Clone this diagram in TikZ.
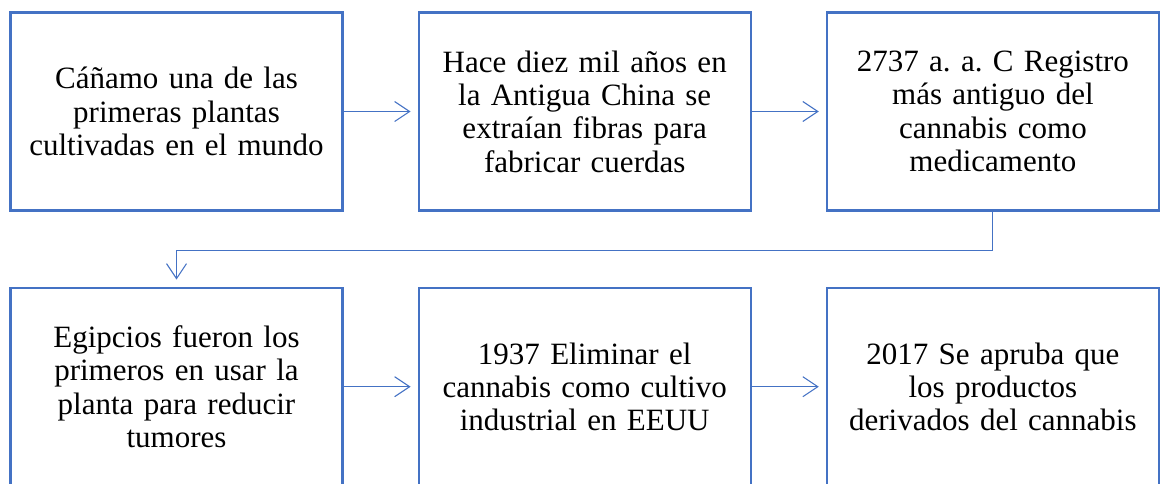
\documentclass[tikz,border=0pt]{standalone}
\usepackage{fontspec}
\setmainfont{Liberation Serif}
\usepackage{tikz}
\usetikzlibrary{positioning,arrows.meta}
\definecolor{AzulOffice}{HTML}{4472C4}
\frenchspacing

\tikzset{
  etapa/.style={draw=AzulOffice, line width=2.2pt, minimum width=332pt, minimum height=198pt, text width=310pt, align=center, inner sep=0pt, font=\fontsize{31}{33.3}\selectfont},
  flecha/.style={-{Straight Barb[length=15pt,width=20pt]}, AzulOffice, line width=1.1pt, shorten >=7pt}
}

\begin{document}
\begin{tikzpicture}
        \useasboundingbox (0,0) rectangle (1160pt,-483pt);
        % Fila superior
        \node[etapa] (canamo) at (176.5pt,-111.5pt) {C\'a\~namo una de las\\primeras plantas\\cultivadas en el mundo};
        \node[etapa, right=74pt of canamo] (china) {Hace diez mil a\~nos en\\la Antigua China se\\extra\'ian fibras para\\fabricar cuerdas};
        \node[etapa, right=74pt of china] (registro) {2737 a. a. C Registro\\m\'as antiguo del\\cannabis como\\medicamento};

        % Fila inferior
        \node[etapa, below=75pt of canamo] (egipcios) {Egipcios fueron los\\primeros en usar la\\planta para reducir\\tumores};
        \node[etapa, right=74pt of egipcios] (eeuu) {1937 Eliminar el\\cannabis como cultivo\\industrial en EEUU};
        \node[etapa, right=74pt of eeuu] (aprueba) {2017 Se apruba que\\los productos\\derivados del cannabis};

        \draw[flecha] (canamo) -- (china);
        \draw[flecha] (china) -- (registro);
        \draw[flecha] (registro.south) -- ++(0,-38.5pt) -| (egipcios.north);
        \draw[flecha] (egipcios) -- (eeuu);
        \draw[flecha] (eeuu) -- (aprueba);
    \end{tikzpicture}
\end{document}
